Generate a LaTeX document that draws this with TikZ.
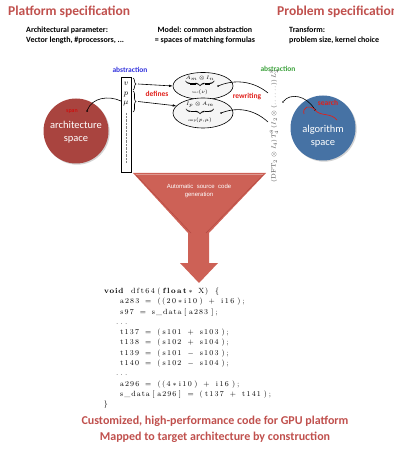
\documentclass[tikz,border=0pt]{standalone}
\usepackage{fontspec}
\usepackage{listings}
\usetikzlibrary{shapes.geometric,decorations.pathreplacing,shadows,arrows.meta}
\newfontfamily\carl{Carlito}
\newfontfamily\libs{Liberation Sans}
\definecolor{tred}{HTML}{C0504D}
\definecolor{archred}{HTML}{A9443F}
\definecolor{algblue}{HTML}{4672A4}
\definecolor{funnelc}{HTML}{CD6156}
\definecolor{funneledge}{HTML}{B24840}
\definecolor{abblue}{HTML}{3535DD}
\definecolor{abgreen}{HTML}{3FA33F}
\definecolor{lblred}{HTML}{E0201B}
\lstset{language=C, basicstyle=\fontsize{7.5}{10.3}\selectfont\rmfamily,
  columns=fixed, basewidth=5.3pt, keywordstyle=\bfseries,
  literate={*}{{$\ast$}}1 {-}{{$-$}}1,
  aboveskip=0pt, belowskip=0pt, showstringspaces=false, xleftmargin=0pt}
\tikzset{
  titletext/.style={font=\carl\bfseries\fontsize{13.5}{15}\selectfont, text=tred, anchor=west, inner sep=0},
  subtext/.style={font=\carl\bfseries\fontsize{8}{10}\selectfont, inner sep=0},
  lbl/.style={font=\carl\bfseries\fontsize{7.5}{9}\selectfont, inner sep=0},
  spacecircle/.style={circle, minimum size=65pt, inner sep=0, drop shadow={opacity=0.35, shadow xshift=1.2pt, shadow yshift=-1.2pt}},
  spacetext/.style={text=white, font=\carl\fontsize{10.5}{13}\selectfont, align=center, inner sep=0},
  ell/.style={ellipse, draw, fill=gray!8, inner sep=0, line width=0.6pt},
  formula/.style={font=\fontsize{4.8}{6}\selectfont, inner sep=0},
  conn/.style={line width=0.6pt},
  arr/.style={line width=0.6pt, -{Latex[length=3.5pt,width=2.6pt]}},
  bottomtext/.style={font=\carl\bfseries\fontsize{12}{14}\selectfont, text=tred, inner sep=0},
  dotmark/.style={circle, fill=black, inner sep=0, minimum size=2pt}
}
\begin{document}
\begin{tikzpicture}[x=1pt,y=-1pt]
\useasboundingbox (0,0) rectangle (393,454);

% headers
\node[titletext] (pt) at (8,12) {Platform specification};
\node[titletext] (prt) at (277,12) {Problem specification};
\node[subtext, anchor=north west, align=left] (s1) at (26,27) {Architectural parameter:\\Vector length, \#processors, ...};
\node[subtext, anchor=north, align=center] (s2) at (205,27) {Model: common abstraction\\= spaces of matching formulas};
\node[subtext, anchor=north west, align=left] (s3) at (289,27) {Transform:\\problem size, kernel choice};

% architecture space
\node[spacecircle, fill=archred] (arch) at (76,131) {};
\node[spacetext] (archt) at (76,132) {architecture\\space};
\node[font=\carl\fontsize{6}{7}\selectfont, text=red!85!black, inner sep=0] (span) at (72,112) {span};

% algorithm space
\node[spacecircle, fill=algblue] (alg) at (323,128) {};
\node[spacetext] (algt) at (323,136) {algorithm\\space};

% vector box
\node[draw, fill=white, line width=0.7pt, minimum width=10pt, minimum height=95pt, anchor=north west, inner sep=0] (vec) at (121,77) {};
\node[font=\fontsize{8}{9}\selectfont, inner sep=0] (lv) at (126,84) {$v$};
\node[font=\fontsize{8}{9}\selectfont, inner sep=0] (lp) at (126,95) {$p$};
\node[font=\fontsize{8}{9}\selectfont, inner sep=0] (lmu) at (126,104) {$\mu$};
\draw[gray, line width=0.6pt, dash pattern=on 0.7pt off 0.7pt] (126,113) -- (126,163);

\node[lbl, text=abblue] (abs1) at (130,70) {abstraction};
\node[lbl, text=abgreen] (abs2) at (278,69) {abstraction};
\node[lbl, text=lblred] (def) at (157,94) {defines};
\node[lbl, text=lblred] (rew) at (247,97) {rewriting};
\node[lbl, text=lblred] (sea) at (328,103) {search};

% braces
\draw[line width=0.6pt, decorate, decoration={brace, amplitude=3pt}] (133,78) -- (133,90);
\draw[line width=0.6pt, decorate, decoration={brace, amplitude=3pt}] (133,91) -- (133,112);
\coordinate (b1) at (138,84);
\coordinate (b2) at (138,101.5);

% ellipses
\node[ell, minimum width=60pt, minimum height=27pt] (e1) at (203,86) {};
\node[formula] (e1t) at (200,86) {$\underbrace{A_m\otimes I_n}_{\mathrm{vec}(\nu)}$};
\node[ell, minimum width=60pt, minimum height=30pt] (e2) at (203,113) {};
\node[formula] (e2t) at (200,113) {$\underbrace{I_p\otimes A_m}_{\mathrm{smp}(p,\mu)}$};

\draw[arr] (b1) -- (e1.west);
\draw[arr] (b2) -- (e2.165);

% rotated formula
\node[rotate=90, font=\fontsize{6.3}{7}\selectfont, text=gray!60!black, inner sep=0] (form) at (274,126)
  {$(\mathrm{DFT}_2\otimes I_4)\,T^8_4\,(I_2\otimes(\ldots\ldots))\,L^8_2$};

% connectors with dots
\node[dotmark] (d1) at (218,86) {};
\node[dotmark] (d2) at (221,113) {};
\coordinate (f1) at (268,93);
\coordinate (f2) at (268,122);
\draw[conn] (d1) .. controls (238,78) and (256,83) .. (f1);
\draw[conn] (d2) .. controls (240,106) and (256,111) .. (f2);

\node[dotmark, minimum size=1.6pt] (f3) at (283,102) {};
\node[dotmark] (d3) at (315,110) {};
\draw[conn] (f3) .. controls (290,93) and (306,95) .. (d3);
\draw[lblred, line width=0.7pt] (304,114) .. controls (302,107) and (310,104) .. (315,110)
  .. controls (321,117) and (330,112) .. (337,120);

\node[dotmark] (sd) at (87,111) {};
\coordinate (vm) at (121,101);
\draw[conn] (sd) .. controls (92,98) and (108,95) .. (vm);

% funnel
\fill[funnelc] (133,173) -- (266,173) -- (209,233) -- (209,263) -- (218,263) -- (199,283)
  -- (180,263) -- (188,263) -- (188,233) -- cycle;
\draw[funneledge, line width=0.4pt] (136,175) -- (191,233);
\draw[funneledge, line width=0.4pt] (263,175) -- (206,233);
\draw[white, opacity=0.35, line width=0.5pt] (136,174.5) -- (263,174.5);
\node[font=\libs\fontsize{6}{8}\selectfont, text=white, align=center, inner sep=0] (auto) at (199,191)
  {Automatic\ \ source\ \ code\\generation};

% code
\node[anchor=north west, inner sep=0] (code) at (103,286) {\begin{minipage}{220pt}
\begin{lstlisting}
void dft64(float* X) {
   a283 = ((20*i10) + i16);
   s97 = s_data[a283];
  ...
   t137 = (s101 + s103);
   t138 = (s102 + s104);
   t139 = (s101 - s103);
   t140 = (s102 - s104);
  ...
   a296 = ((4*i10) + i16);
   s_data[a296] = (t137 + t141);
}
\end{lstlisting}
\end{minipage}};

% bottom
\node[bottomtext] (c1) at (215,421) {Customized, high-performance code for GPU platform};
\node[bottomtext] (c2) at (215,437) {Mapped to target architecture by construction};
\end{tikzpicture}
\end{document}
